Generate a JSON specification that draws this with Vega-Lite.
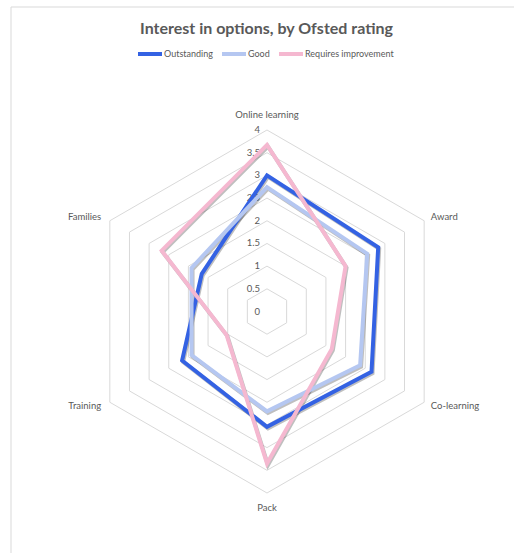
{
  "$schema": "https://vega.github.io/schema/vega-lite/v6.json",
  "width": 503,
  "height": 546,
  "autosize": {"type": "none"},
  "padding": {"left": 11, "top": 7, "right": 0, "bottom": 0},
  "background": "white",
  "config": {
    "view": {"stroke": null},
    "font": "Lato"
  },
  "title": {
    "text": "Interest in options, by Ofsted rating",
    "fontSize": 16,
    "fontWeight": "bold",
    "font": "Lato",
    "color": "#595959",
    "anchor": "middle",
    "offset": -30,
    "dx": 4
  },
  "datasets": {
    "scores": [
      {"series": "Outstanding", "category": "Online learning", "value": 3.0},
      {"series": "Outstanding", "category": "Award", "value": 2.83},
      {"series": "Outstanding", "category": "Co-learning", "value": 2.66},
      {"series": "Outstanding", "category": "Pack", "value": 2.54},
      {"series": "Outstanding", "category": "Training", "value": 2.16},
      {"series": "Outstanding", "category": "Families", "value": 1.66},
      {"series": "Good", "category": "Online learning", "value": 2.74},
      {"series": "Good", "category": "Award", "value": 2.55},
      {"series": "Good", "category": "Co-learning", "value": 2.37},
      {"series": "Good", "category": "Pack", "value": 2.2},
      {"series": "Good", "category": "Training", "value": 1.92},
      {"series": "Good", "category": "Families", "value": 1.92},
      {"series": "Requires improvement", "category": "Online learning", "value": 3.67},
      {"series": "Requires improvement", "category": "Award", "value": 2.0},
      {"series": "Requires improvement", "category": "Co-learning", "value": 1.65},
      {"series": "Requires improvement", "category": "Pack", "value": 3.35},
      {"series": "Requires improvement", "category": "Training", "value": 1.03},
      {"series": "Requires improvement", "category": "Families", "value": 2.68}
    ],
    "gridlevels": [
      {"level": 0.5, "spoke": [0, 1, 2, 3, 4, 5]},
      {"level": 1, "spoke": [0, 1, 2, 3, 4, 5]},
      {"level": 1.5, "spoke": [0, 1, 2, 3, 4, 5]},
      {"level": 2, "spoke": [0, 1, 2, 3, 4, 5]},
      {"level": 2.5, "spoke": [0, 1, 2, 3, 4, 5]},
      {"level": 3, "spoke": [0, 1, 2, 3, 4, 5]},
      {"level": 3.5, "spoke": [0, 1, 2, 3, 4, 5]},
      {"level": 4, "spoke": [0, 1, 2, 3, 4, 5]}
    ],
    "ticks": [
      {"tick": 0}, {"tick": 0.5}, {"tick": 1}, {"tick": 1.5}, {"tick": 2},
      {"tick": 2.5}, {"tick": 3}, {"tick": 3.5}, {"tick": 4}
    ],
    "categories": [
      {"category": "Online learning"},
      {"category": "Award"},
      {"category": "Co-learning"},
      {"category": "Pack"},
      {"category": "Training"},
      {"category": "Families"}
    ],
    "frame": [{"edge": "chart area"}]
  },
  "resolve": {"scale": {"x": "shared", "y": "shared"}},
  "layer": [
    {
      "data": {"name": "gridlevels"},
      "transform": [
        {"flatten": ["spoke"]},
        {"calculate": "datum.level * sin(datum.spoke * PI / 3)", "as": "gx"},
        {"calculate": "datum.level * cos(datum.spoke * PI / 3)", "as": "gy"}
      ],
      "mark": {"type": "line", "interpolate": "linear-closed", "color": "#d9d9d9", "strokeWidth": 1},
      "encoding": {
        "x": {"field": "gx", "type": "quantitative", "scale": {"domain": [-5.642, 5.444], "nice": false, "zero": false}, "axis": null},
        "y": {"field": "gy", "type": "quantitative", "scale": {"domain": [-5.322, 6.711], "nice": false, "zero": false}, "axis": null},
        "detail": {"field": "level", "type": "nominal"},
        "order": {"field": "spoke", "type": "quantitative"}
      }
    },
    {
      "data": {"name": "frame"},
      "mark": {"type": "rule", "color": "#d9d9d9", "strokeWidth": 1},
      "encoding": {
        "x": {"datum": -5.642, "type": "quantitative"}
      }
    },
    {
      "data": {"name": "frame"},
      "mark": {"type": "rule", "color": "#d9d9d9", "strokeWidth": 1},
      "encoding": {
        "y": {"datum": 6.711, "type": "quantitative"}
      }
    },
    {
      "data": {"name": "ticks"},
      "mark": {"type": "text", "align": "right", "baseline": "middle", "dx": -7, "fontSize": 9.5, "color": "#595959", "font": "Lato"},
      "encoding": {
        "x": {"datum": 0, "type": "quantitative"},
        "y": {"field": "tick", "type": "quantitative"},
        "text": {"field": "tick", "type": "quantitative", "format": "~g"}
      }
    },
    {
      "data": {"name": "categories"},
      "transform": [
        {"calculate": "indexof(['Online learning','Award','Co-learning','Pack','Training','Families'], datum.category)", "as": "k"},
        {"calculate": "(datum.k == 0 || datum.k == 3) ? 4.33 : 4.17", "as": "r"},
        {"calculate": "datum.r * sin(datum.k * PI / 3)", "as": "lx"},
        {"calculate": "datum.r * cos(datum.k * PI / 3)", "as": "ly"},
        {"filter": "datum.k == 0 || datum.k == 3"}
      ],
      "mark": {"type": "text", "align": "center", "baseline": "middle", "fontSize": 9.5, "color": "#595959", "font": "Lato"},
      "encoding": {
        "x": {"field": "lx", "type": "quantitative"},
        "y": {"field": "ly", "type": "quantitative"},
        "text": {"field": "category"}
      }
    },
    {
      "data": {"name": "categories"},
      "transform": [
        {"calculate": "indexof(['Online learning','Award','Co-learning','Pack','Training','Families'], datum.category)", "as": "k"},
        {"calculate": "4.17 * sin(datum.k * PI / 3)", "as": "lx"},
        {"calculate": "4.17 * cos(datum.k * PI / 3)", "as": "ly"},
        {"filter": "datum.k == 1 || datum.k == 2"}
      ],
      "mark": {"type": "text", "align": "left", "baseline": "middle", "dx": 0, "fontSize": 9.5, "color": "#595959", "font": "Lato"},
      "encoding": {
        "x": {"field": "lx", "type": "quantitative"},
        "y": {"field": "ly", "type": "quantitative"},
        "text": {"field": "category"}
      }
    },
    {
      "data": {"name": "categories"},
      "transform": [
        {"calculate": "indexof(['Online learning','Award','Co-learning','Pack','Training','Families'], datum.category)", "as": "k"},
        {"calculate": "4.17 * sin(datum.k * PI / 3)", "as": "lx"},
        {"calculate": "4.17 * cos(datum.k * PI / 3)", "as": "ly"},
        {"filter": "datum.k == 4 || datum.k == 5"}
      ],
      "mark": {"type": "text", "align": "right", "baseline": "middle", "dx": -2, "fontSize": 9.5, "color": "#595959", "font": "Lato"},
      "encoding": {
        "x": {"field": "lx", "type": "quantitative"},
        "y": {"field": "ly", "type": "quantitative"},
        "text": {"field": "category"}
      }
    },
    {
      "data": {"name": "scores"},
      "transform": [
        {"calculate": "indexof(['Online learning','Award','Co-learning','Pack','Training','Families'], datum.category)", "as": "k"},
        {"calculate": "datum.value * sin(datum.k * PI / 3)", "as": "px"},
        {"calculate": "datum.value * cos(datum.k * PI / 3)", "as": "py"}
      ],
      "mark": {"type": "line", "interpolate": "linear-closed", "color": "#000000", "opacity": 0.25, "strokeWidth": 4, "xOffset": 1, "yOffset": 1.5},
      "encoding": {
        "x": {"field": "px", "type": "quantitative"},
        "y": {"field": "py", "type": "quantitative"},
        "detail": {"field": "series", "type": "nominal"},
        "order": {"field": "k", "type": "quantitative"}
      }
    },
    {
      "data": {"name": "scores"},
      "transform": [
        {"calculate": "indexof(['Online learning','Award','Co-learning','Pack','Training','Families'], datum.category)", "as": "k"},
        {"calculate": "datum.value * sin(datum.k * PI / 3)", "as": "px"},
        {"calculate": "datum.value * cos(datum.k * PI / 3)", "as": "py"}
      ],
      "mark": {"type": "line", "interpolate": "linear-closed", "strokeWidth": 4},
      "encoding": {
        "x": {"field": "px", "type": "quantitative"},
        "y": {"field": "py", "type": "quantitative"},
        "color": {
          "field": "series",
          "type": "nominal",
          "sort": ["Outstanding", "Good", "Requires improvement"],
          "scale": {"domain": ["Outstanding", "Good", "Requires improvement"], "range": ["#3462e3", "#b5c7f1", "#f5b8d0"]},
          "legend": {
            "title": null,
            "orient": "none",
            "legendX": 125,
            "legendY": 33,
            "direction": "horizontal",
            "symbolType": "stroke",
            "symbolSize": 576,
            "symbolStrokeWidth": 3,
            "labelFontSize": 9,
            "labelColor": "#595959",
            "labelFont": "Lato",
            "labelOffset": 0,
            "columnPadding": 1
          }
        },
        "strokeWidth": {
          "field": "series",
          "type": "nominal",
          "scale": {"domain": ["Outstanding", "Good", "Requires improvement"], "range": [4, 4, 3]},
          "legend": null
        },
        "order": {"field": "k", "type": "quantitative"}
      }
    }
  ]
}
